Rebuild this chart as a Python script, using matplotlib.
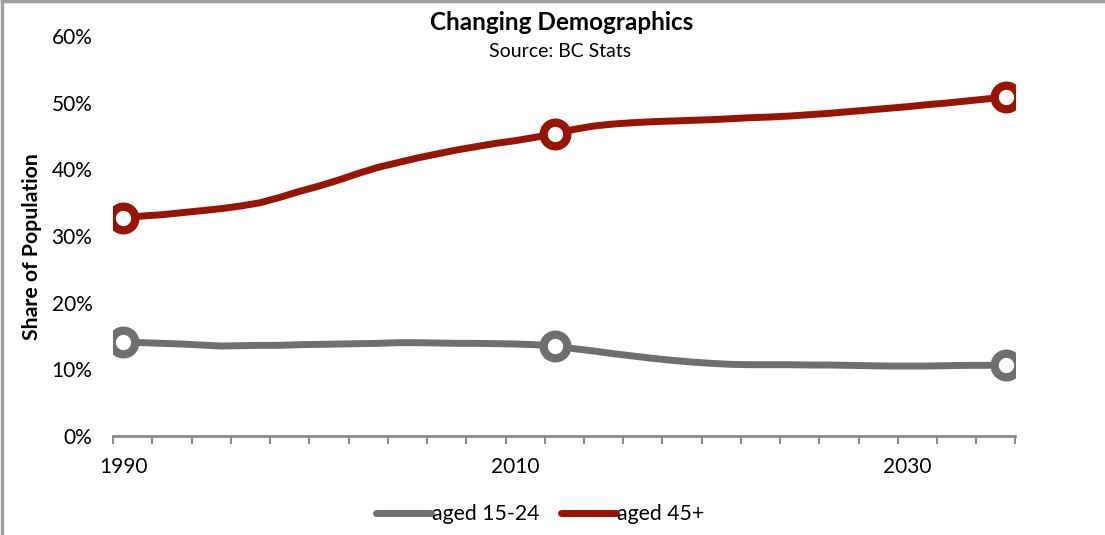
import numpy as np
import matplotlib
matplotlib.use("Agg")
import matplotlib.pyplot as plt
from matplotlib.lines import Line2D
from matplotlib.ticker import PercentFormatter

# BC Stats population shares, 1990-2035 (one value per year)
years = list(range(1990, 2036))
aged_15_24 = [
    14.15, 14.0, 13.9, 13.8, 13.65, 13.5, 13.55, 13.6, 13.6, 13.7,
    13.75, 13.8, 13.85, 13.9, 14.0, 14.0, 13.95, 13.9, 13.9, 13.85,
    13.8, 13.7, 13.5, 13.1, 12.75, 12.35, 12.0, 11.65, 11.35, 11.1,
    10.9, 10.75, 10.7, 10.7, 10.7, 10.65, 10.65, 10.6, 10.55, 10.5,
    10.5, 10.5, 10.55, 10.6, 10.6, 10.65,
]
aged_45_plus = [
    32.7, 33.0, 33.2, 33.5, 33.8, 34.1, 34.5, 35.0, 35.8, 36.7,
    37.5, 38.4, 39.4, 40.3, 41.0, 41.7, 42.3, 42.9, 43.4, 43.9,
    44.3, 44.8, 45.3, 46.0, 46.5, 46.8, 47.0, 47.15, 47.25, 47.35,
    47.45, 47.6, 47.75, 47.85, 48.0, 48.2, 48.4, 48.65, 48.9, 49.15,
    49.4, 49.7, 49.95, 50.25, 50.55, 50.8,
]
marker_years = [1990, 2012, 2035]
label_years = [1990, 2010, 2030]
y_ticks = [0, 10, 20, 30, 40, 50, 60]

GRAY = "#6f6f6f"
RED = "#981400"
AXIS = "#8c8c8c"
FONT = ["Lato", "DejaVu Sans"]

plt.rcParams["font.family"] = FONT

fig = plt.figure(figsize=(11.05, 5.35), dpi=100)
ax = fig.add_axes([0.1025, 0.185, 0.8165, 0.7477])

x = np.arange(len(years))
marks = [years.index(y) for y in marker_years]

for vals, color in [(aged_15_24, GRAY), (aged_45_plus, RED)]:
    v = np.array(vals) / 100
    ax.plot(x, v, color=color, lw=5, solid_capstyle="round", zorder=3)
    ax.plot(x[marks], v[marks], "o", ms=17, mew=6, mfc="white", mec=color, zorder=4)

ax.set_xlim(-0.5, len(years) - 0.5)
ax.set_ylim(0, 0.6)

# category boundaries get the tick marks, labels sit on the categories
ax.set_xticks(np.arange(-0.5, len(years), 2))
ax.set_xticklabels([])
ax.tick_params(axis="x", which="major", length=6, width=1.5, color=AXIS, direction="out")
ax.set_xticks([years.index(y) for y in label_years], minor=True)
ax.set_xticklabels([str(y) for y in label_years], minor=True, fontsize=15)
ax.tick_params(axis="x", which="minor", length=0, pad=15)

ax.set_yticks([t / 100 for t in y_ticks])
ax.yaxis.set_major_formatter(PercentFormatter(1.0, decimals=0))
ax.tick_params(axis="y", length=0, pad=15, labelsize=15)

for side in ["top", "right", "left"]:
    ax.spines[side].set_visible(False)
ax.spines["bottom"].set_color(AXIS)
ax.spines["bottom"].set_linewidth(2)

ax.set_ylabel("Share of Population", fontsize=15.3, fontweight="bold")
ax.yaxis.set_label_coords(-0.079, 0.4725)

fig.text(0.508, 0.958, "Changing Demographics", ha="center", va="center",
         fontsize=17.5, fontweight="bold")
fig.text(0.507, 0.904, "Source: BC Stats", ha="center", va="center", fontsize=14)

handles = [Line2D([], [], color=GRAY, lw=5, solid_capstyle="round"),
           Line2D([], [], color=RED, lw=5, solid_capstyle="round")]
fig.legend(handles, ["aged 15-24", "aged 45+"], loc="center", bbox_to_anchor=(0.489, 0.039),
           ncol=2, frameon=False, fontsize=15.3, handlelength=2.6, handletextpad=0.05,
           columnspacing=1.0)

# outer chart border
fig.add_artist(Line2D([0.002, 0.002], [0, 0.998], color="#a0a0a0", lw=2.5))
fig.add_artist(Line2D([0.002, 1], [0.998, 0.998], color="#a0a0a0", lw=2.5))

fig.savefig("out.png", dpi=100)
